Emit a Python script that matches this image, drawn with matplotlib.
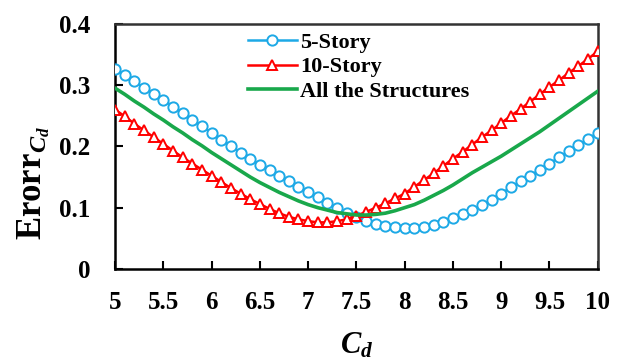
import numpy as np
import matplotlib
matplotlib.use("Agg")
import matplotlib.pyplot as plt

cd = [round(5 + 0.1 * i, 1) for i in range(51)]

story5 = [0.326, 0.316, 0.306, 0.296, 0.286, 0.276, 0.265, 0.254, 0.243, 0.233,
          0.222, 0.211, 0.201, 0.190, 0.180, 0.170, 0.161, 0.152, 0.143, 0.134,
          0.126, 0.117, 0.108, 0.100, 0.092, 0.085, 0.079, 0.074, 0.070, 0.068,
          0.067, 0.067, 0.069, 0.072, 0.077, 0.083, 0.089, 0.096, 0.104, 0.113,
          0.123, 0.133, 0.143, 0.152, 0.162, 0.172, 0.182, 0.192, 0.202, 0.212,
          0.222]

story10 = [0.260, 0.249, 0.237, 0.226, 0.215, 0.204, 0.193, 0.182, 0.172, 0.162,
           0.152, 0.142, 0.132, 0.123, 0.114, 0.106, 0.098, 0.091, 0.085, 0.081,
           0.078, 0.076, 0.076, 0.078, 0.081, 0.087, 0.093, 0.100, 0.107, 0.115,
           0.123, 0.134, 0.145, 0.156, 0.168, 0.180, 0.191, 0.203, 0.215, 0.226,
           0.238, 0.250, 0.261, 0.273, 0.285, 0.297, 0.308, 0.320, 0.331, 0.343,
           0.355]

all_struct = [0.295, 0.285, 0.274, 0.264, 0.253, 0.243, 0.232, 0.222, 0.211, 0.201,
              0.190, 0.180, 0.170, 0.160, 0.150, 0.141, 0.133, 0.125, 0.118, 0.111,
              0.105, 0.100, 0.096, 0.092, 0.090, 0.088, 0.088, 0.089, 0.091, 0.095,
              0.100, 0.105, 0.112, 0.120, 0.128, 0.137, 0.147, 0.157, 0.166, 0.175,
              0.184, 0.194, 0.204, 0.214, 0.224, 0.235, 0.246, 0.257, 0.268, 0.279,
              0.290]

xticks = [5, 5.5, 6, 6.5, 7, 7.5, 8, 8.5, 9, 9.5, 10]
xtick_labels = ["5", "5.5", "6", "6.5", "7", "7.5", "8", "8.5", "9", "9.5", "10"]
yticks = [0, 0.1, 0.2, 0.3, 0.4]
ytick_labels = ["0", "0.1", "0.2", "0.3", "0.4"]

plt.rcParams['font.family'] = ['Liberation Serif', 'DejaVu Serif']
plt.rcParams['font.weight'] = 'bold'
plt.rcParams['mathtext.fontset'] = 'custom'
plt.rcParams['mathtext.rm'] = 'Liberation Serif:bold'
plt.rcParams['mathtext.it'] = 'Liberation Serif:bold:italic'
plt.rcParams['mathtext.bf'] = 'Liberation Serif:bold'

fig = plt.figure(figsize=(6.22, 3.61), dpi=100)
ax = fig.add_axes([0.185, 0.255, 0.776, 0.679])

blue = '#1DA9E6'
red = '#FF0000'
green = '#19A84B'

ax.plot(cd, story5, color=blue, lw=1.8, marker='o', ms=7.4, mfc='white',
        mec=blue, mew=1.4, label='5-Story', zorder=3)
ax.plot(cd, story10, color=red, lw=1.8, marker='^', ms=7.4, mfc='white',
        mec=red, mew=1.4, label='10-Story', zorder=3)
ax.plot(cd, all_struct, color=green, lw=2.6, label='All the Structures', zorder=4)

ax.set_xlim(5, 10)
ax.set_ylim(0, 0.4)
ax.set_xticks(xticks)
ax.set_xticklabels(xtick_labels)
ax.set_yticks(yticks)
ax.set_yticklabels(ytick_labels)

ax.tick_params(axis='both', direction='in', length=6, width=1.5, labelsize=18)
ax.tick_params(axis='x', pad=16)
ax.tick_params(axis='y', pad=18)
for lab in ax.get_xticklabels() + ax.get_yticklabels():
    lab.set_fontweight('bold')

for s in ax.spines.values():
    s.set_linewidth(1.8)
    s.set_color('black')
ax.spines['top'].set_color('#333333')
ax.spines['right'].set_color('#333333')

ax.set_xlabel(r'$C_d$', fontsize=22)
ax.xaxis.set_label_coords(0.5, -0.255)
ax.set_ylabel(r'Erorr$_{C_d}$', fontsize=25, fontweight='bold')
ax.yaxis.set_label_coords(-0.13, 0.35)

leg = ax.legend(loc='upper left', bbox_to_anchor=(0.25, 1.015), frameon=False,
                fontsize=16, handlelength=2.2, handletextpad=0.15,
                labelspacing=0.18, borderaxespad=0.15)
for t in leg.get_texts():
    t.set_fontweight('bold')

fig.savefig('out.png', dpi=100)
